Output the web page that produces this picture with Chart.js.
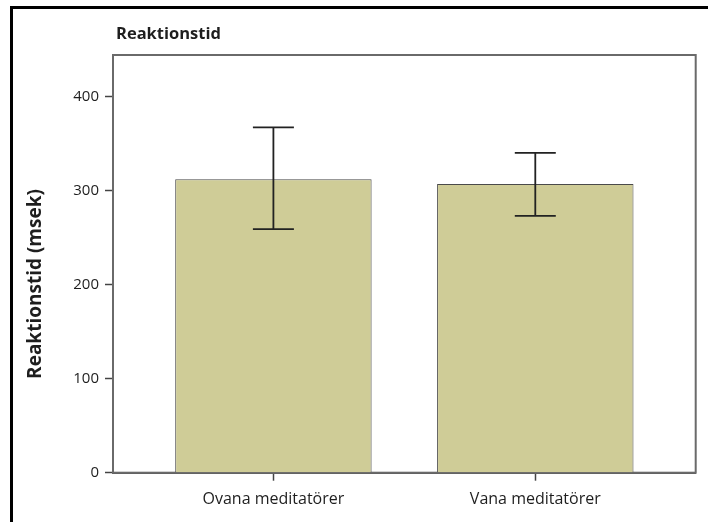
<!DOCTYPE html>
<html>
<head>
<meta charset="utf-8">
<script src="https://cdn.jsdelivr.net/npm/chart.js@4.4.1/dist/chart.umd.min.js"></script>
<style>
  html, body { margin: 0; padding: 0; background: #fff; overflow: hidden; }
  #wrap { position: relative; width: 708px; height: 522px; }
  #frame { position: absolute; left: 10px; top: 6px; width: 800px; height: 600px;
           border-left: 3px solid #000; border-top: 3px solid #000; pointer-events: none; }
</style>
</head>
<body>
<div id="wrap">
  <canvas id="resultPlot" width="708" height="522"></canvas>
  <div id="frame"></div>
</div>
<script>
// data
let categories = ['Ovana meditatörer', 'Vana meditatörer'];
let meanValues = [312, 307];
let upperValues = [367, 340];
let lowerValues = [259, 273];
let yTicks = [0, 100, 200, 300, 400];

let chartTitle = 'Reaktionstid';
let yTitle = 'Reaktionstid (msek)';

/**
 * box round the plot area, error bars and the two titles
 */
let extrasPlugin = {
    id: 'extras',
    beforeDatasetsDraw: function(chart){
        let ctx = chart.ctx;
        let a = chart.chartArea;
        ctx.save();
        ctx.strokeStyle = '#6a6a6a';
        ctx.lineWidth = 2;
        ctx.strokeRect(a.left, a.top, a.right - a.left, a.bottom - a.top);
        ctx.restore();
    },
    afterDatasetsDraw: function(chart){
        let ctx = chart.ctx;
        let yScale = chart.scales.y;
        let meta = chart.getDatasetMeta(0);
        ctx.save();
        ctx.strokeStyle = '#222';
        ctx.lineWidth = 1.8;
        for (let i = 0; i < meta.data.length; i++){
            let x = meta.data[i].x;
            let yTop = yScale.getPixelForValue(upperValues[i]);
            let yBot = yScale.getPixelForValue(lowerValues[i]);
            ctx.beginPath();
            ctx.moveTo(x, yTop); ctx.lineTo(x, yBot);
            ctx.moveTo(x - 20.5, yTop); ctx.lineTo(x + 20.5, yTop);
            ctx.moveTo(x - 20.5, yBot); ctx.lineTo(x + 20.5, yBot);
            ctx.stroke();
        }
        ctx.restore();
    },
    afterDraw: function(chart){
        let ctx = chart.ctx;
        ctx.save();
        ctx.fillStyle = '#1e1e1e';
        ctx.font = 'bold 16.5px "Open Sans"';
        ctx.textAlign = 'left';
        ctx.textBaseline = 'alphabetic';
        ctx.fillText(chartTitle, 116, 39);
        ctx.translate(36, 284);
        ctx.rotate(-Math.PI / 2);
        ctx.font = 'bold 19px "Open Sans"';
        ctx.textAlign = 'center';
        ctx.textBaseline = 'middle';
        ctx.fillText(yTitle, 0, 0);
        ctx.restore();
    }
};

function draw(){
    let plotArea = document.getElementById('resultPlot');
    let points = [];
    for (let i = 0; i < categories.length; i++){
        points.push({x: i + 1, y: meanValues[i]});
    }
    let chartObject = {};
    chartObject['type'] = 'bar';
    chartObject['data'] = {
        datasets: [{
            label: yTitle,
            data: points,
            backgroundColor: 'rgb(207,204,151)',
            borderColor: '#4a4a4a',
            borderWidth: 1,
            categoryPercentage: 1,
            barPercentage: 0.75
        }]
    };
    chartObject['options'] = {
        responsive: false,
        animation: false,
        layout: {padding: {top: 55, right: 12.3, bottom: 0, left: 0}},
        plugins: {legend: {display: false}, tooltip: {enabled: false}},
        scales: {
            x: {
                type: 'linear',
                offset: false,
                min: 0.3875,
                max: 2.6125,
                afterBuildTicks: function(scale){
                    scale.ticks = categories.map(function(c, i){ return {value: i + 1}; });
                },
                afterFit: function(scale){ scale.height = 522 - 472.7; },
                grid: {offset: false, drawOnChartArea: false, drawTicks: true, tickLength: 8, tickColor: '#444', tickWidth: 1.5},
                border: {display: true, color: '#555', width: 2},
                ticks: {
                    padding: 9,
                    color: '#1e1e1e',
                    font: {family: 'Open Sans', size: 16},
                    callback: function(v){ return categories[v - 1]; }
                }
            },
            y: {
                min: 0,
                max: 444,
                afterBuildTicks: function(scale){
                    scale.ticks = yTicks.map(function(v){ return {value: v}; });
                },
                afterFit: function(scale){ scale.width = 113; },
                grid: {drawOnChartArea: false, drawTicks: true, tickLength: 8, tickColor: '#444', tickWidth: 1.5},
                border: {display: true, color: '#555', width: 2},
                ticks: {
                    padding: 6,
                    color: '#1e1e1e',
                    font: {family: 'Open Sans', size: 15}
                }
            }
        }
    };
    chartObject['plugins'] = [extrasPlugin];
    new Chart(plotArea, chartObject);
}

draw();
</script>
</body>
</html>
